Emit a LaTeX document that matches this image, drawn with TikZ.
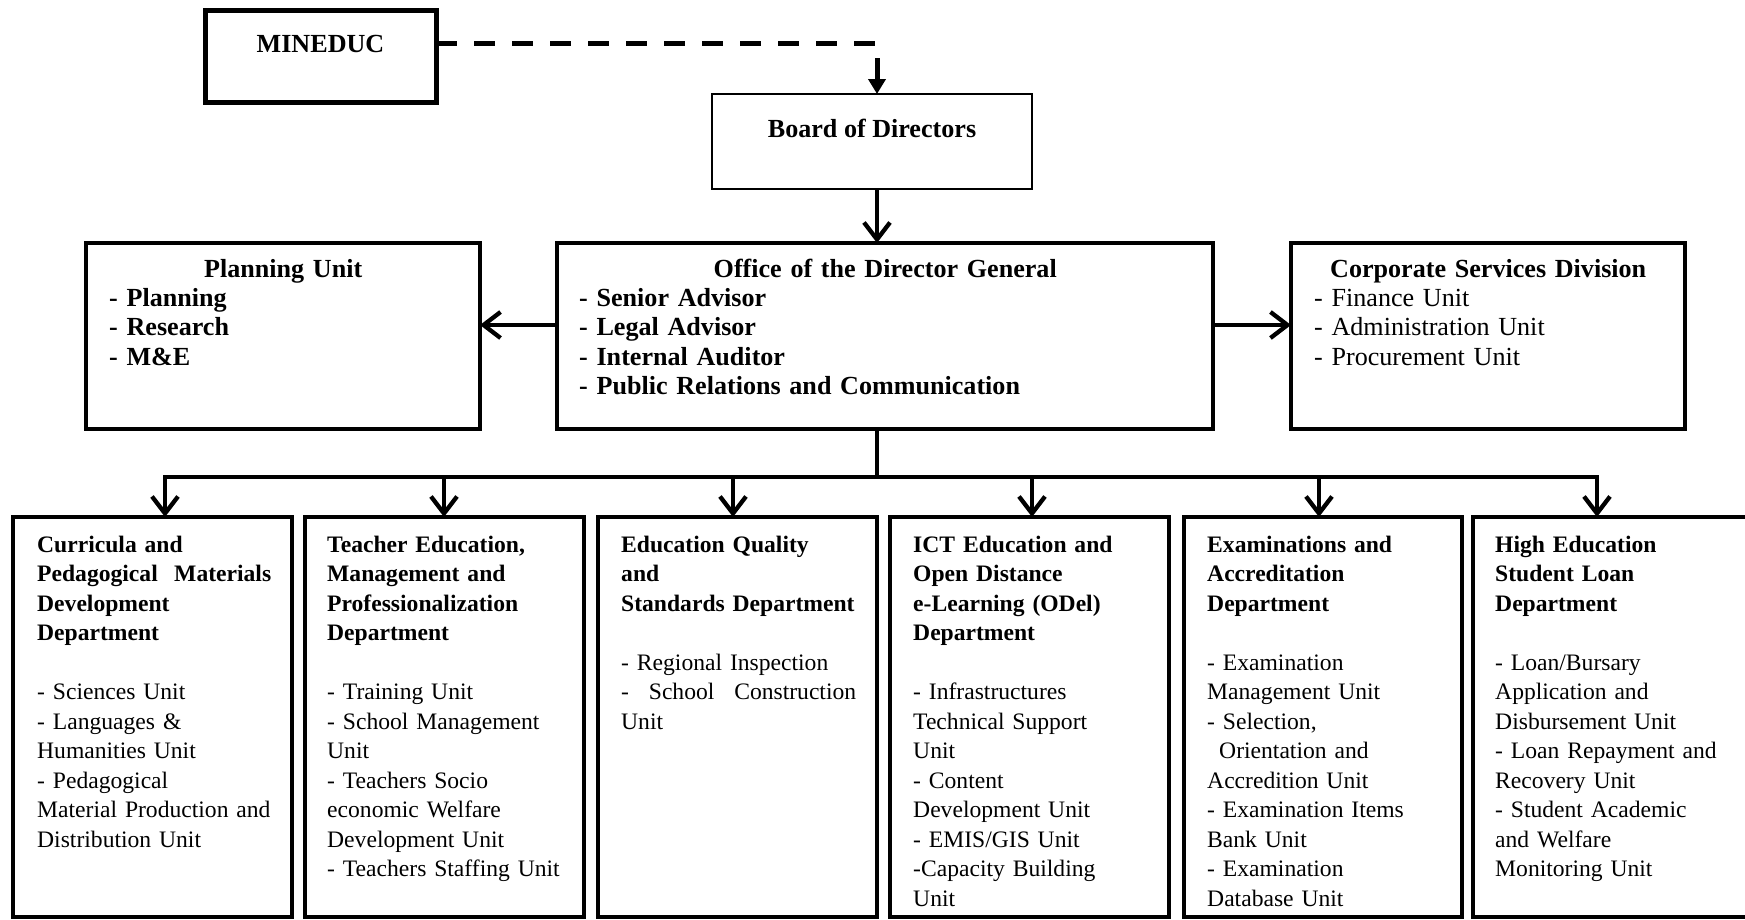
\documentclass[tikz,border=0pt]{standalone}
\usepackage{fontspec}
\setmainfont{Liberation Serif}
\usetikzlibrary{arrows.meta}
\newcommand\fl{\rule{0pt}{22pt}}
\newcommand\topfont{\fontsize{26.1pt}{29.3pt}\selectfont}
\newcommand\botfont{\fontsize{23.6pt}{29.5pt}\selectfont}
\begin{document}
\begin{tikzpicture}[x=1pt,y=-1pt,
  box/.style={draw, line width=4pt, anchor=north west, inner sep=0pt, outer sep=0pt},
  txt/.style={anchor=north west, inner sep=0pt, align=left},
  toptxt/.style={txt, font=\topfont, text width=348pt},
  bottxt/.style={txt, font=\botfont, text width=240pt},
  conn/.style={line width=4.3pt, line cap=rect},
  arr/.style={line width=4.3pt, -{Straight Barb[length=17pt,width=26pt]}},
  dasharr/.style={line width=5pt, dash pattern=on 21pt off 17pt, -{Triangle[length=15pt,width=17pt]}},
]
\useasboundingbox (0,0) rectangle (1745,919);

% top boxes
\node[box, line width=5pt, minimum width=231pt, minimum height=92pt] (mined) at (205,10) {};
\node[anchor=base, inner sep=0pt, font=\topfont\bfseries] (minedt) at ([yshift=-42pt]mined.north) {MINEDUC};

\node[box, line width=2.2pt, minimum width=320pt, minimum height=95pt] (board) at (712,94) {};
\node[anchor=base, inner sep=0pt, font=\topfont\bfseries] (boardt) at ([yshift=-43pt]board.north) {Board of Directors};

\node[box, minimum width=394pt, minimum height=186pt] (plan) at (86,243) {};
\node[toptxt, font=\topfont\bfseries] (plant) at ([xshift=23pt,yshift=-12pt]plan.north west)
  {{\centering\fl Planning Unit\par}- Planning\\- Research\\- M\&E};

\node[box, minimum width=656pt, minimum height=186pt] (odg) at (557,243) {};
\node[toptxt, font=\topfont\bfseries, text width=612pt] (odgt) at ([xshift=22pt,yshift=-12pt]odg.north west)
  {{\centering\fl Office of the Director General\par}- Senior Advisor\\- Legal Advisor\\- Internal Auditor\\- Public Relations and Communication};

\node[box, line width=3.6pt, minimum width=394pt, minimum height=186pt] (corp) at (1291,243) {};
\node[toptxt] (corpt) at ([xshift=23pt,yshift=-12pt]corp.north west)
  {{\centering\fl\bfseries Corporate Services Division\par}- Finance Unit\\- Administration Unit\\- Procurement Unit};

% bottom boxes
\node[box, minimum width=279pt, minimum height=400pt] (b1) at (13,517) {};
\node[box, minimum width=279pt, minimum height=400pt] (b2) at (305,517) {};
\node[box, minimum width=279pt, minimum height=400pt] (b3) at (598,517) {};
\node[box, minimum width=279pt, minimum height=400pt] (b4) at (890,517) {};
\node[box, minimum width=278pt, minimum height=400pt] (b5) at (1184,517) {};
\node[box, minimum width=290pt, minimum height=400pt] (b6) at (1473,517) {};

\node[bottxt] (b1t) at ([xshift=24pt,yshift=-13pt]b1.north west)
  {\bfseries\fl Curricula and\\\makebox[234pt][l]{Pedagogical\hfill Materials}\\Development\\Department\\[29.5pt]\mdseries
   - Sciences Unit\\- Languages \&\\Humanities Unit\\- Pedagogical\\Material Production and\\Distribution Unit};
\node[bottxt] (b2t) at ([xshift=22pt,yshift=-13pt]b2.north west)
  {\bfseries\fl Teacher Education,\\Management and\\Professionalization\\Department\\[29.5pt]\mdseries
   - Training Unit\\- School Management\\Unit\\- Teachers Socio\\economic Welfare\\Development Unit\\- Teachers Staffing Unit};
\node[bottxt] (b3t) at ([xshift=23pt,yshift=-13pt]b3.north west)
  {\bfseries\fl Education Quality\\and\\Standards Department\\[29.5pt]\mdseries
   - Regional Inspection\\\makebox[235pt][l]{-\hfill School\hfill Construction}\\Unit};
\node[bottxt] (b4t) at ([xshift=23pt,yshift=-13pt]b4.north west)
  {\bfseries\fl ICT Education and\\Open Distance\\e-Learning (ODel)\\Department\\[29.5pt]\mdseries
   - Infrastructures\\Technical Support\\Unit\\- Content\\Development Unit\\- EMIS/GIS Unit\\-Capacity Building\\Unit};
\node[bottxt] (b5t) at ([xshift=23pt,yshift=-13pt]b5.north west)
  {\bfseries\fl Examinations and\\Accreditation\\Department\\[29.5pt]\mdseries
   - Examination\\Management Unit\\- Selection,\\\hspace*{12pt}Orientation and\\Accredition Unit\\- Examination Items\\Bank Unit\\- Examination\\Database Unit};
\node[bottxt] (b6t) at ([xshift=22pt,yshift=-13pt]b6.north west)
  {\bfseries\fl High Education\\Student Loan\\Department\\[29.5pt]\mdseries
   - Loan/Bursary\\Application and\\Disbursement Unit\\- Loan Repayment and\\Recovery Unit\\- Student Academic\\and Welfare\\Monitoring Unit};

% connectors
\coordinate (tx) at (877,0);
\coordinate (d1) at (165,477);
\coordinate (d2) at (444,477);
\coordinate (d3) at (733,477);
\coordinate (d4) at (1032,477);
\coordinate (d5) at (1319,477);
\coordinate (d6) at (1597,477);

\draw[dasharr] ([yshift=13pt]mined.east) -| ([xshift=5pt]board.north);
\draw[arr] (board.south -| tx) -- (odg.north -| tx);
\draw[arr] ([yshift=11pt]odg.west) -- ([yshift=11pt]odg.west -| plan.east);
\draw[arr] ([yshift=11pt]odg.east) -- ([yshift=11pt]odg.east -| corp.west);
\draw[conn] (odg.south -| tx) -- (tx |- d1);
\draw[conn] (d1) -- (d6);
\foreach \i in {1,...,6} \draw[arr] (d\i) -- (d\i |- b\i.north);
\end{tikzpicture}
\end{document}
